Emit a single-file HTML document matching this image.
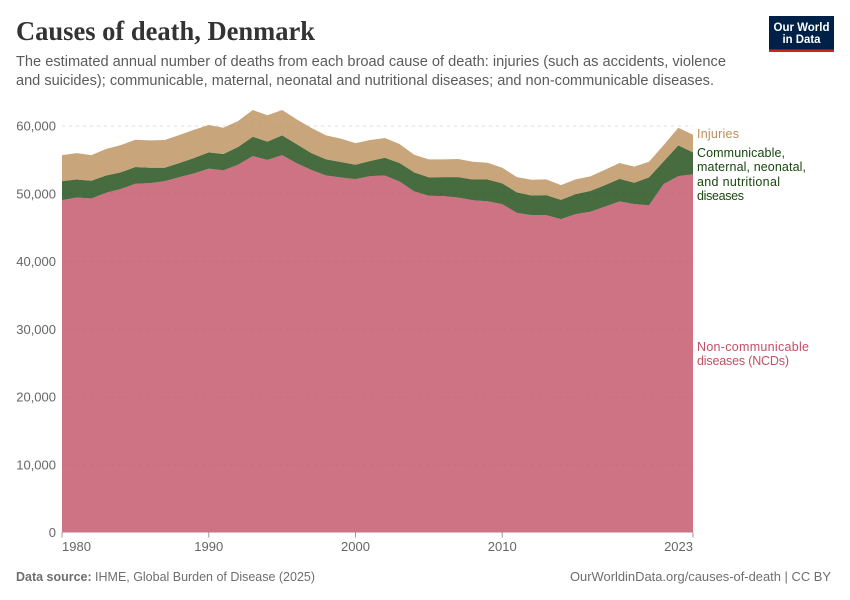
<!DOCTYPE html>
<html lang="en">
<head>
<meta charset="utf-8">
<title>Causes of death, Denmark</title>
<style>
html,body{margin:0;padding:0;background:#fff;}
svg{display:block;font-family:"Liberation Sans",sans-serif;}
</style>
</head>
<body>
<svg id="chart" width="850" height="600" viewBox="0 0 850 600" xmlns="http://www.w3.org/2000/svg">
  <text x="16" y="40" font-family="'Liberation Serif',serif" font-weight="700" font-size="27" fill="#333333" textLength="299" lengthAdjust="spacingAndGlyphs">Causes of death, Denmark</text>
  <text x="16" y="66" font-size="15" fill="#5b5b5b" textLength="710" lengthAdjust="spacingAndGlyphs">The estimated annual number of deaths from each broad cause of death: injuries (such as accidents, violence</text>
  <text x="16" y="85" font-size="15" fill="#5b5b5b" textLength="698" lengthAdjust="spacingAndGlyphs">and suicides); communicable, maternal, neonatal and nutritional diseases; and non-communicable diseases.</text>

  <g>
    <rect x="769" y="16" width="65" height="36" fill="#002147"/>
    <rect x="769" y="49.5" width="65" height="2.5" fill="#ce261e"/>
    <text x="801.5" y="31" font-size="12" font-weight="700" fill="#fff" text-anchor="middle" textLength="56" lengthAdjust="spacingAndGlyphs">Our World</text>
    <text x="801.5" y="43" font-size="12" font-weight="700" fill="#fff" text-anchor="middle" textLength="38" lengthAdjust="spacingAndGlyphs">in Data</text>
  </g>

  <g id="grid"></g>
  <g id="areas"></g>
  <g id="yLabels"></g>
  <g id="xAxis"></g>

  <g>
    <text x="697" y="138" font-size="12.5" fill="#bc8e5a" textLength="42" lengthAdjust="spacing">Injuries</text>
    <g font-size="12.5" fill="#18470f">
      <text x="697" y="157" textLength="88" lengthAdjust="spacing">Communicable,</text>
      <text x="697" y="171" textLength="109" lengthAdjust="spacing">maternal, neonatal,</text>
      <text x="697" y="186" textLength="83" lengthAdjust="spacing">and nutritional</text>
      <text x="697" y="200" textLength="47" lengthAdjust="spacing">diseases</text>
    </g>
    <g font-size="12.5" fill="#c15065">
      <text x="697" y="351" textLength="112" lengthAdjust="spacing">Non-communicable</text>
      <text x="697" y="365" textLength="92" lengthAdjust="spacing">diseases (NCDs)</text>
    </g>
  </g>

  <text x="16" y="581" font-size="13" fill="#6e6e6e" textLength="299" lengthAdjust="spacingAndGlyphs"><tspan font-weight="700">Data source:</tspan> IHME, Global Burden of Disease (2025)</text>
  <text x="570" y="581" font-size="13" fill="#6e6e6e" textLength="261" lengthAdjust="spacingAndGlyphs">OurWorldinData.org/causes-of-death | CC BY</text>
</svg>
<script>
const years = [1980,1981,1982,1983,1984,1985,1986,1987,1988,1989,1990,1991,1992,1993,1994,1995,1996,1997,1998,1999,2000,2001,2002,2003,2004,2005,2006,2007,2008,2009,2010,2011,2012,2013,2014,2015,2016,2017,2018,2019,2020,2021,2022,2023];
const ncdDeaths = [49060,49450,49300,50150,50700,51470,51570,51870,52460,53000,53700,53450,54300,55560,55000,55700,54500,53500,52700,52400,52160,52600,52700,51800,50350,49700,49650,49450,49050,48900,48470,47180,46850,46850,46250,47000,47350,48100,48870,48470,48300,51430,52600,52860];
const communicableDeaths = [2810,2650,2620,2550,2450,2470,2270,1970,2070,2270,2400,2410,2600,2860,2700,2920,2800,2500,2380,2280,2120,2230,2610,2730,2800,2710,2810,3010,3050,3200,3060,3020,2900,2950,2850,2950,3050,3180,3330,3150,4110,3350,4540,3240];
const injuryDeaths = [3830,3900,3780,3900,4030,4030,4040,4090,4140,4180,4040,3880,3840,3940,3880,3740,3680,3700,3540,3450,3200,3100,2910,2810,2610,2670,2620,2660,2620,2470,2310,2260,2320,2320,2180,2170,2160,2260,2330,2380,2310,2400,2600,2600];
const yTicks = [0,10000,20000,30000,40000,50000,60000];
const xTicks = [1980,1990,2000,2010,2023];

const NS = 'http://www.w3.org/2000/svg';
const left = 62, right = 693, yZero = 532.5, ySixty = 126;
function xScale(year){
  return left + (year - years[0]) / (years[years.length - 1] - years[0]) * (right - left);
}
function yScale(value){
  return yZero - value / 60000 * (yZero - ySixty);
}
function make(tag, attrs, parent){
  const el = document.createElementNS(NS, tag);
  for (const k in attrs) el.setAttribute(k, attrs[k]);
  parent.appendChild(el);
  return el;
}

const grid = document.getElementById('grid');
const yLabels = document.getElementById('yLabels');
yTicks.forEach(function(t){
  if (t > 0) {
    const line = make('line', {x1:left, x2:right, y1:yScale(t), y2:yScale(t), stroke:'#dddddd', 'stroke-dasharray':'3,4'}, grid);
    
    
  }
  const label = make('text', {x:56, y:yScale(t) + 4.5, 'text-anchor':'end', 'font-size':13, fill:'#666666'}, yLabels);
  
  
  label.textContent = t.toLocaleString('en-US');
});

const areas = document.getElementById('areas');
let baseline = years.map(function(){ return 0; });
function drawArea(values, color, name){
  const top = values.map(function(v, i){ return baseline[i] + v; });
  const upper = years.map(function(y, i){ return xScale(y).toFixed(2) + ',' + yScale(top[i]).toFixed(2); });
  const lower = years.map(function(y, i){ return xScale(y).toFixed(2) + ',' + yScale(baseline[i]).toFixed(2); }).reverse();
  const area = make('polygon', {points: upper.concat(lower).join(' '), fill: color, 'fill-opacity': 0.8}, areas);
  
  
  baseline = top;
}
drawArea(ncdDeaths, '#c15065', 'area-ncds');
drawArea(communicableDeaths, '#18470f', 'area-communicable');
drawArea(injuryDeaths, '#bc8e5a', 'area-injuries');

const xAxis = document.getElementById('xAxis');
xTicks.forEach(function(t, i){
  const px = xScale(t);
  const tick = make('line', {x1:px, x2:px, y1:yZero, y2:yZero + 5, stroke:'#999999'}, xAxis);
  
  
  const anchor = i === 0 ? 'start' : (i === xTicks.length - 1 ? 'end' : 'middle');
  const label = make('text', {x:px, y:551, 'text-anchor':anchor, 'font-size':13, fill:'#666666'}, xAxis);
  
  
  label.textContent = t;
});
</script>
</body>
</html>
